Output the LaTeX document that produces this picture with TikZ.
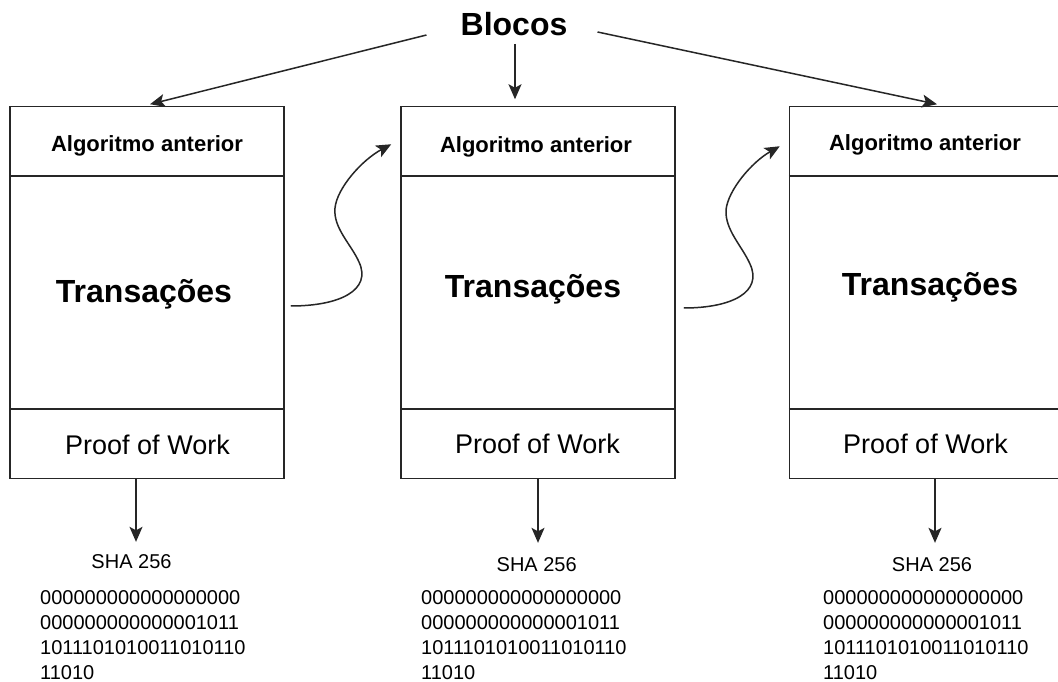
\documentclass[tikz,border=0pt]{standalone}
\usepackage{fontspec}
\setmainfont{Liberation Sans}
\usetikzlibrary{arrows.meta,calc}
\begin{document}
\begin{tikzpicture}[x=1pt,y=-1pt,
  ln/.style={line width=1.5pt, draw=black!85},
  blockbox/.style={ln, rectangle, minimum width=274pt, minimum height=372pt, inner sep=0pt},
  arr/.style={ln, -{Stealth[length=15pt,width=13pt,inset=3.5pt]}},
  hdr/.style={font=\fontsize{22}{26}\selectfont\bfseries, anchor=base, inner sep=0pt},
  tx/.style={font=\fontsize{32}{38}\selectfont\bfseries, anchor=base, inner sep=0pt},
  pow/.style={font=\fontsize{27}{32}\selectfont, anchor=base, inner sep=0pt},
  sha/.style={font=\fontsize{20}{25}\selectfont, anchor=base, inner sep=0pt},
  bin/.style={font=\fontsize{20}{25}\selectfont, align=left, anchor=north west, inner sep=0pt},
]
\path[use as bounding box, fill=white] (0,0) rectangle (1058,682);
\clip (0,0) rectangle (1058,682);

% title
\node[font=\fontsize{32}{38}\selectfont\bfseries, inner sep=0pt] (blocos) at (514,24.5) {Blocos};

% blocks
\node[blockbox] (b1) at (147,292.5) {};
\node[blockbox] (b2) at (538,292.5) {};
\node[blockbox] (b3) at (926.5,292.5) {};
\foreach \b in {b1,b2,b3} {
  \draw[ln] ([yshift=-70.5pt]\b.north west) -- ([yshift=-70.5pt]\b.north east);
  \draw[ln] ([yshift=70.5pt]\b.south west) -- ([yshift=70.5pt]\b.south east);
}

% texts inside blocks
\node[hdr] (h1) at (147,152) {Algoritmo anterior};
\node[hdr] (h2) at (536,153) {Algoritmo anterior};
\node[hdr] (h3) at (925,151) {Algoritmo anterior};
\node[tx] (t1) at (144,302) {Transações};
\node[tx] (t2) at (533,297) {Transações};
\node[tx] (t3) at (930,295) {Transações};
\node[pow] (p1) at (147.5,454) {Proof of Work};
\node[pow] (p2) at (537.5,453) {Proof of Work};
\node[pow] (p3) at (925.5,453) {Proof of Work};

% hashes
\node[sha] (s1) at (131.5,568) {SHA 256};
\node[sha] (s2) at (536.7,571) {SHA 256};
\node[sha] (s3) at (932,571) {SHA 256};
\node[bin] (n1) at (40,590) {000000000000000000\\000000000000001011\\1011101010011010110\\11010};
\node[bin] (n2) at (421,590) {000000000000000000\\000000000000001011\\1011101010011010110\\11010};
\node[bin] (n3) at (823,590) {000000000000000000\\000000000000001011\\1011101010011010110\\11010};

% arrows from title
\draw[arr] ([shift={(-34pt,-10.5pt)}]blocos.west) -- ([xshift=3pt,yshift=1.5pt]b1.north);
\draw[arr] ([xshift=1pt,yshift=-7.5pt]blocos.south) -- ([xshift=-23pt,yshift=6.5pt]b2.north);
\draw[arr] ([shift={(30pt,-7.5pt)}]blocos.east) -- ([xshift=10.5pt,yshift=1.5pt]b3.north);

% chain arrows
\draw[arr] ([shift={(6pt,-13.5pt)}]b1.east) .. controls (340,306) and (372,290) .. (359,262)
  .. controls (351,244) and (333,228) .. (335,208)
  .. controls (337,188) and (362,160) .. ([shift={(-9pt,-38.5pt)}]b2.north west);
\draw[arr] ([shift={(8pt,-15.5pt)}]b2.east) .. controls (732,308) and (763,292) .. (750,264)
  .. controls (742,246) and (725,230) .. (726,210)
  .. controls (728,190) and (752,162) .. ([shift={(-9pt,-40.5pt)}]b3.north west);

% arrows to hashes
\draw[arr, shorten >=12pt] ([xshift=-11pt]b1.south) -- (s1.north -| 136,0);
\draw[arr, shorten >=14pt] (b2.south) -- (s2.north -| 538,0);
\draw[arr, shorten >=14pt] ([xshift=8.5pt]b3.south) -- (s3.north -| 935,0);
\end{tikzpicture}
\end{document}
